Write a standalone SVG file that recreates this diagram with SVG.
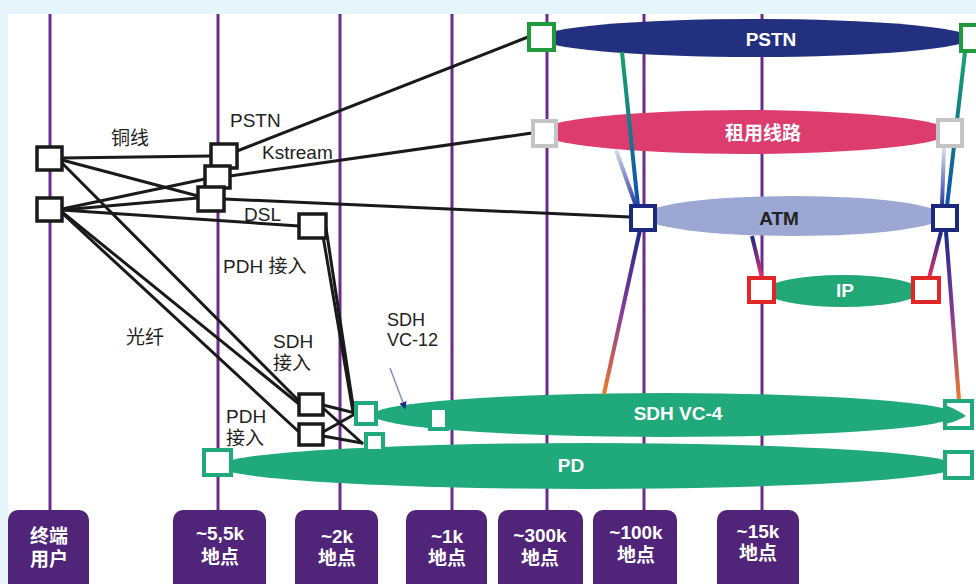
<svg xmlns="http://www.w3.org/2000/svg" width="976" height="584" viewBox="0 0 976 584">
<defs>
<style>
.vl{stroke:#6a2d8c;stroke-width:3;fill:none}
.box{fill:#4f2479}
.bt{font-family:"Liberation Sans","Noto Sans CJK SC",sans-serif;font-size:19px;font-weight:bold;fill:#fff;text-anchor:middle}
.lb{font-family:"Liberation Sans","Noto Sans CJK SC",sans-serif;font-size:19px;fill:#222}
.et{font-family:"Liberation Sans","Noto Sans CJK SC",sans-serif;font-size:19px;font-weight:bold;fill:#fff;text-anchor:middle}
.bk{stroke:#1a1a1a;stroke-width:3;fill:none;stroke-linecap:round}
.bs{fill:#fff;stroke:#1a1a1a;stroke-width:3.5}
.gs{fill:#fff;stroke:#20a97a;stroke-width:4}
.ps{fill:#fff;stroke:#1f9a3c;stroke-width:4}
.ys{fill:#fff;stroke:#c4c4c4;stroke-width:4}
.as{fill:#fff;stroke:#1c2880;stroke-width:4}
.rs{fill:#fff;stroke:#e02626;stroke-width:4}
.cl{stroke-width:4;fill:none}
</style>
<linearGradient id="gGB" x1="0" y1="0" x2="0" y2="1"><stop offset="0" stop-color="#16a36a"/><stop offset="1" stop-color="#1050b0"/></linearGradient>
<linearGradient id="gYB" x1="0" y1="0" x2="0" y2="1"><stop offset="0" stop-color="#d8dcee"/><stop offset="1" stop-color="#2a3aa0"/></linearGradient>
<linearGradient id="gBO" x1="0" y1="0" x2="0" y2="1"><stop offset="0" stop-color="#1c2a8a"/><stop offset="0.5" stop-color="#8a3a9a"/><stop offset="1" stop-color="#ea7a2a"/></linearGradient>
<linearGradient id="gBP" x1="0" y1="0" x2="0" y2="1"><stop offset="0" stop-color="#1c2a8a"/><stop offset="1" stop-color="#e8306a"/></linearGradient>
<marker id="ah" viewBox="0 0 10 10" refX="8" refY="5" markerWidth="5" markerHeight="5" orient="auto"><path d="M0,0 L10,5 L0,10 z" fill="#1c2a8a"/></marker>
</defs>
<rect x="0" y="0" width="976" height="584" fill="#e6f4fb"/>
<rect x="8" y="14" width="968" height="570" fill="#fff"/>

<g id="levels">
<line class="vl" x1="50" y1="14" x2="50" y2="512"/>
<line class="vl" x1="218" y1="14" x2="218" y2="512"/>
<line class="vl" x1="340" y1="14" x2="340" y2="512"/>
<line class="vl" x1="452" y1="14" x2="452" y2="512"/>
<line class="vl" x1="547" y1="14" x2="547" y2="512"/>
<line class="vl" x1="644" y1="14" x2="644" y2="512"/>
<line class="vl" x1="762" y1="14" x2="762" y2="512"/>
</g>

<g id="ellipses">
<ellipse id="e-pstn" cx="755" cy="38" rx="215" ry="19" fill="#23307f"/>
<ellipse id="e-leased" cx="745" cy="132" rx="205" ry="22" fill="#dd3d6e"/>
<ellipse id="e-atm" cx="793" cy="216" rx="150" ry="20" fill="#9ca7d3"/>
<ellipse id="e-ip" cx="843" cy="291" rx="78" ry="16" fill="#22a877"/>
<ellipse id="e-vc4" cx="665" cy="415" rx="292" ry="22" fill="#20a97a"/>
<ellipse id="e-pd" cx="588" cy="466" rx="370" ry="23" fill="#20a97a"/>
<text class="et" x="771" y="46">PSTN</text>
<text class="et" x="763" y="140">租用线路</text>
<text class="et" x="779" y="225" style="fill:#222">ATM</text>
<text class="et" x="845" y="297">IP</text>
<text class="et" x="678" y="420">SDH VC-4</text>
<text class="et" x="571" y="472">PD</text>
</g>

<g id="connectors">
<line class="cl" x1="622" y1="52" x2="638" y2="206" stroke="url(#gGB)"/>
<line class="cl" x1="616" y1="150" x2="636" y2="206" stroke="url(#gYB)"/>
<line class="cl" x1="640" y1="230" x2="604" y2="394" stroke="url(#gBO)"/>
<line class="cl" x1="752" y1="236" x2="762" y2="278" stroke="url(#gBP)"/>
<line class="cl" x1="965" y1="52" x2="947" y2="206" stroke="url(#gGB)"/>
<line class="cl" x1="944" y1="148" x2="942" y2="206" stroke="url(#gYB)"/>
<line class="cl" x1="941" y1="232" x2="929" y2="278" stroke="url(#gBP)"/>
<line class="cl" x1="946" y1="232" x2="959" y2="400" stroke="url(#gBO)"/>
<line class="bk" x1="62" y1="158" x2="211" y2="156"/>
<line class="bk" x1="62" y1="160" x2="198" y2="196"/>
<line class="bk" x1="62" y1="163" x2="299" y2="401"/>
<line class="bk" x1="62" y1="209" x2="205" y2="179"/>
<line class="bk" x1="62" y1="210" x2="198" y2="198"/>
<line class="bk" x1="62" y1="210" x2="299" y2="226"/>
<line class="bk" x1="62" y1="212" x2="299" y2="404"/>
<line class="bk" x1="62" y1="213" x2="299" y2="432"/>
<line class="bk" x1="237" y1="151" x2="528" y2="37"/>
<line class="bk" x1="230" y1="176" x2="532" y2="133"/>
<line class="bk" x1="224" y1="199" x2="630" y2="217"/>
<line class="bk" x1="326" y1="228" x2="354" y2="412"/>
<line class="bk" x1="323" y1="236" x2="353" y2="412"/>
<line class="bk" x1="323" y1="405" x2="355" y2="413"/>
<line class="bk" x1="323" y1="408" x2="362" y2="443"/>
<line class="bk" x1="323" y1="432" x2="355" y2="414"/>
<line class="bk" x1="323" y1="436" x2="362" y2="443"/>
<line x1="390" y1="368" x2="405" y2="408" stroke="#8890c0" stroke-width="1.5" marker-end="url(#ah)"/>
</g>

<g id="n-eu1"><rect class="bs" x="37" y="147" width="25" height="23"/></g>
<g id="n-eu2"><rect class="bs" x="37" y="198" width="25" height="23"/></g>
<g id="n-55k-1"><rect class="bs" x="211" y="144" width="26" height="24"/></g>
<g id="n-55k-2"><rect class="bs" x="205" y="166" width="25" height="22"/></g>
<g id="n-55k-3"><rect class="bs" x="198" y="187" width="26" height="24"/></g>
<g id="n-dsl"><rect class="bs" x="299" y="214" width="27" height="24"/></g>
<g id="n-sdh-acc"><rect class="bs" x="299" y="394" width="24" height="21"/></g>
<g id="n-pdh-acc"><rect class="bs" x="299" y="424" width="24" height="21"/></g>

<g id="n-vc12"><rect class="gs" x="356" y="403" width="20" height="21"/></g>
<g id="n-pd-in"><rect class="gs" x="366" y="434" width="17" height="17"/></g>
<g id="n-vc4-l"><rect class="gs" x="430" y="408" width="17" height="21"/></g>
<g id="n-pd-l"><rect class="gs" x="204" y="450" width="27" height="25"/></g>
<g id="n-vc4-r"><rect class="gs" x="945" y="401" width="27" height="27"/><path d="M945,405 Q958,410 966,416 Q958,421 945,424 Z" fill="#20a97a"/></g>
<g id="n-pd-r"><rect class="gs" x="945" y="452" width="27" height="26"/></g>
<g id="n-pstn-l"><rect class="ps" x="529" y="24" width="25" height="26"/></g>
<g id="n-pstn-r"><rect class="ps" x="961" y="25" width="25" height="26"/></g>
<g id="n-ll-l"><rect class="ys" x="533" y="121" width="23" height="25"/></g>
<g id="n-ll-r"><rect class="ys" x="938" y="120" width="24" height="26"/></g>
<g id="n-atm-l"><rect class="as" x="631" y="206" width="24" height="24"/></g>
<g id="n-atm-r"><rect class="as" x="933" y="206" width="24" height="24"/></g>
<g id="n-ip-l"><rect class="rs" x="749" y="278" width="25" height="24"/></g>
<g id="n-ip-r"><rect class="rs" x="913" y="278" width="26" height="24"/></g>

<g id="labels">
<text class="lb" x="111" y="145">铜线</text>
<text class="lb" x="230" y="127">PSTN</text>
<text class="lb" x="262" y="159">Kstream</text>
<text class="lb" x="244" y="221">DSL</text>
<text class="lb" x="223" y="273">PDH 接入</text>
<text class="lb" x="126" y="344">光纤</text>
<text class="lb" x="273" y="348">SDH</text>
<text class="lb" x="273" y="370">接入</text>
<text class="lb" x="226" y="423">PDH</text>
<text class="lb" x="226" y="445">接入</text>
<text class="lb" x="387" y="326" style="font-size:18px">SDH</text>
<text class="lb" x="387" y="346" style="font-size:18px">VC-12</text>
</g>

<g id="b-eu"><rect class="box" x="8" y="510" width="81" height="84" rx="10"/><text class="bt" x="49" y="543">终端</text><text class="bt" x="49" y="566">用户</text></g>
<g id="b-55k"><rect class="box" x="173" y="510" width="93" height="84" rx="10"/><text class="bt" x="220" y="540">~5,5k</text><text class="bt" x="220" y="564">地点</text></g>
<g id="b-2k"><rect class="box" x="295" y="510" width="83" height="84" rx="10"/><text class="bt" x="337" y="543">~2k</text><text class="bt" x="337" y="565">地点</text></g>
<g id="b-1k"><rect class="box" x="406" y="510" width="81" height="84" rx="10"/><text class="bt" x="447" y="543">~1k</text><text class="bt" x="447" y="565">地点</text></g>
<g id="b-300k"><rect class="box" x="498" y="510" width="85" height="84" rx="10"/><text class="bt" x="540" y="542">~300k</text><text class="bt" x="540" y="565">地点</text></g>
<g id="b-100k"><rect class="box" x="593" y="510" width="84" height="84" rx="10"/><text class="bt" x="636" y="539">~100k</text><text class="bt" x="636" y="562">地点</text></g>
<g id="b-15k"><rect class="box" x="717" y="510" width="82" height="84" rx="10"/><text class="bt" x="758" y="538">~15k</text><text class="bt" x="758" y="560">地点</text></g>
</svg>
